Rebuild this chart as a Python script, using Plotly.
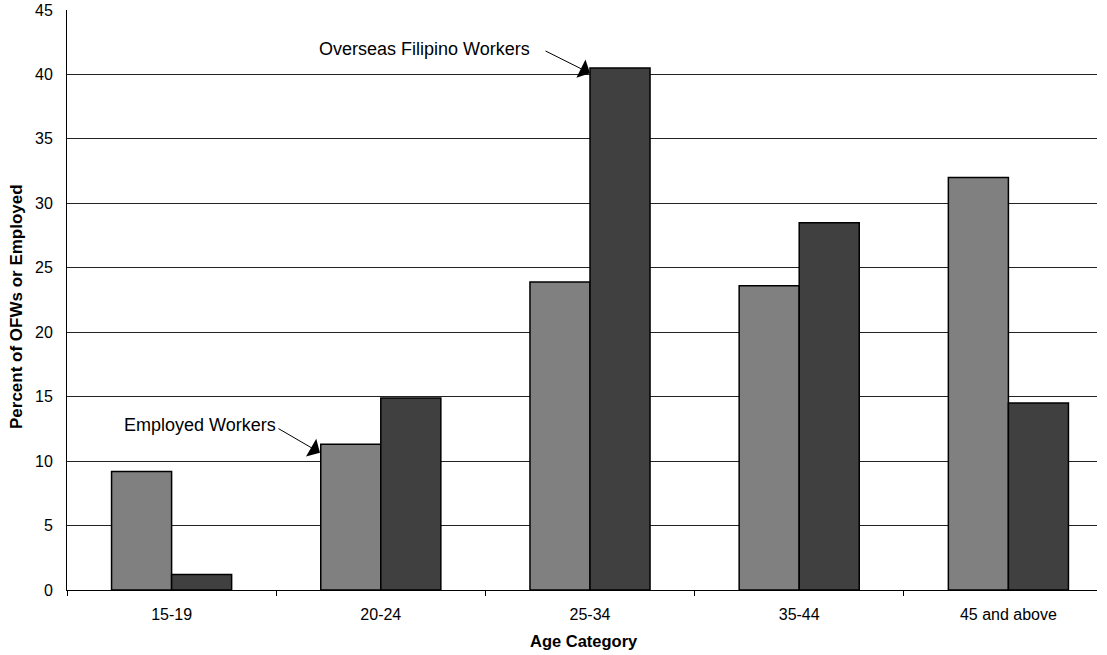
import plotly.graph_objects as go

categories = ["15-19", "20-24", "25-34", "35-44", "45 and above"]
employed = [9.2, 11.3, 23.9, 23.6, 32.0]
ofw = [1.2, 14.9, 40.5, 28.5, 14.5]
y_ticks = [0, 5, 10, 15, 20, 25, 30, 35, 40, 45]

font_family = "Liberation Sans, Arial, sans-serif"

fig = go.Figure()
fig.add_trace(go.Bar(
    x=categories, y=employed, name="Employed Workers",
    marker=dict(color="rgb(128,128,128)", line=dict(color="black", width=1.5)),
))
fig.add_trace(go.Bar(
    x=categories, y=ofw, name="Overseas Filipino Workers",
    marker=dict(color="rgb(64,64,64)", line=dict(color="black", width=1.5)),
))

fig.update_layout(
    width=1107, height=655,
    margin=dict(l=67, r=10, t=10, b=65),
    paper_bgcolor="white", plot_bgcolor="white",
    barmode="group", bargap=0.426, bargroupgap=0,
    showlegend=False,
    font=dict(family=font_family, size=16, color="black"),
)
fig.update_xaxes(
    type="category", automargin=False, range=[-0.5, 4.4235],
    showline=True, linecolor="black", linewidth=1,
    ticks="outside", tickson="boundaries", ticklen=5, tickcolor="black",
    showgrid=False, ticklabelstandoff=10,
    tickfont=dict(size=16),
)
fig.update_yaxes(
    range=[0, 45], tickvals=y_ticks, automargin=False,
    showline=True, linecolor="black", linewidth=1,
    showgrid=True, gridcolor="#222222", gridwidth=1,
    zeroline=False,
    ticks="", ticklabelstandoff=10,
    tickfont=dict(size=16),
)

# axis titles
fig.add_annotation(xref="paper", yref="paper", x=0.5017, y=-0.088,
                   xanchor="center", yanchor="middle",
                   text="<b>Age Category</b>", showarrow=False,
                   font=dict(size=16.5))
fig.add_annotation(xref="paper", yref="paper", x=-0.0485, y=0.488,
                   xanchor="center", yanchor="middle",
                   text="<b>Percent of OFWs or Employed</b>", showarrow=False,
                   textangle=-90, font=dict(size=17))

# arrows
fig.add_annotation(xref="paper", yref="paper", x=0.2456, y=0.2367,
                   ax=-43, ay=-25, axref="pixel", ayref="pixel",
                   text="", showarrow=True, arrowhead=1, arrowsize=3.4,
                   arrowwidth=1, arrowcolor="black")
fig.add_annotation(xref="paper", yref="paper", x=0.1294, y=0.2845,
                   xanchor="center", yanchor="middle",
                   text="Employed Workers", showarrow=False,
                   font=dict(size=18))
fig.add_annotation(xref="paper", yref="paper", x=0.5078, y=0.891,
                   ax=-46, ay=-23, axref="pixel", ayref="pixel",
                   text="", showarrow=True, arrowhead=1, arrowsize=3.4,
                   arrowwidth=1, arrowcolor="black")
fig.add_annotation(xref="paper", yref="paper", x=0.4512, y=0.9336,
                   xanchor="right", yanchor="middle",
                   text="Overseas Filipino Workers", showarrow=False,
                   font=dict(size=18))

fig.write_html("out.html", config={"displayModeBar": False},
               post_script="document.body.style.margin='0';")
